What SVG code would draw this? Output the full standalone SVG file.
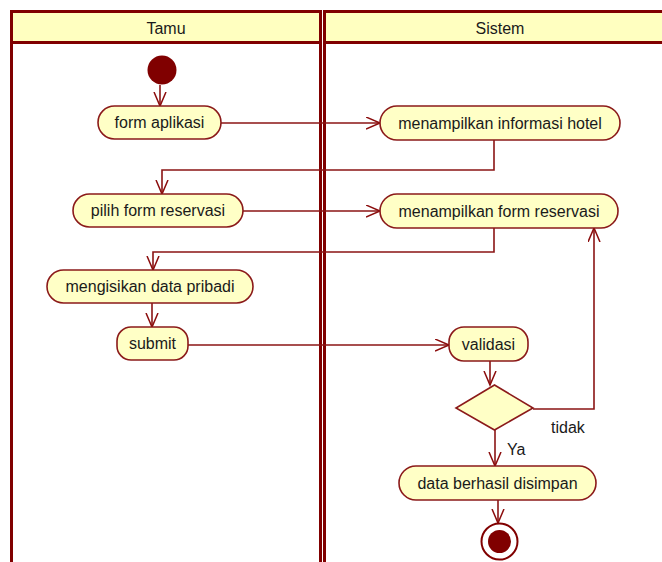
<svg xmlns="http://www.w3.org/2000/svg" width="662" height="562" viewBox="0 0 662 562">
  <defs>
    <marker id="arrow" markerUnits="userSpaceOnUse" markerWidth="16" markerHeight="14" refX="14" refY="6.5" orient="auto">
      <path d="M0,0.5 L14,6.5 L0,12.5" fill="none" stroke="#8b0d0d" stroke-width="1.5"/>
    </marker>
    <style>
      .lane { fill: #ffffff; stroke: #800000; stroke-width: 3; }
      .lanehead { fill: #ffffc0; stroke: #800000; stroke-width: 3; }
      .act { fill: #ffffc6; stroke: #8b1a1a; stroke-width: 1.6; }
      .lbl { font-family: "Liberation Sans", Arial, sans-serif; font-size: 16px; fill: #1a1a1a; text-anchor: middle; }
      .edge { fill: none; stroke: #8b1515; stroke-width: 1.6; marker-end: url(#arrow); }
      .guard { font-family: "Liberation Sans", Arial, sans-serif; font-size: 16px; fill: #1a1a1a; }
    </style>
  </defs>

  <!-- swimlanes -->
  <g id="lane-tamu">
    <rect class="lane" x="11.5" y="11.5" width="309" height="560"/>
    <rect class="lanehead" x="11.5" y="11.5" width="309" height="31"/>
    <text class="lbl" x="166" y="34">Tamu</text>
  </g>
  <g id="lane-sistem">
    <rect class="lane" x="324.5" y="11.5" width="350" height="560"/>
    <rect class="lanehead" x="324.5" y="11.5" width="350" height="31"/>
    <text class="lbl" x="500" y="34">Sistem</text>
  </g>

  <!-- connectors -->
  <g id="connectors">
    <path class="edge" d="M160,85 L160,106"/>
    <path class="edge" d="M221,123 L380,123"/>
    <path class="edge" d="M494,140 L494,170 L162,170 L162,194"/>
    <path class="edge" d="M243,211 L380,211"/>
    <path class="edge" d="M494,228 L494,252 L153,252 L153,270"/>
    <path class="edge" d="M152,303 L152,327"/>
    <path class="edge" d="M188,345 L449,345"/>
    <path class="edge" d="M490,361 L490,385"/>
    <path class="edge" d="M533,409 L594,409 L594,228"/>
    <path class="edge" d="M495,430 L495,466"/>
    <path class="edge" d="M498,500 L498,523"/>
    <text class="guard" x="551" y="433">tidak</text>
    <text class="guard" x="507" y="455">Ya</text>
  </g>

  <!-- nodes -->
  <g id="start">
    <circle cx="162" cy="70" r="14.5" fill="#800000"/>
  </g>
  <g id="form-aplikasi">
    <rect class="act" x="98" y="106" width="123" height="33" rx="16.5"/>
    <text class="lbl" x="159.5" y="128">form aplikasi</text>
  </g>
  <g id="info-hotel">
    <rect class="act" x="380" y="106" width="240" height="34" rx="17"/>
    <text class="lbl" x="500" y="128.5">menampilkan informasi hotel</text>
  </g>
  <g id="pilih-form">
    <rect class="act" x="73" y="194" width="170" height="33" rx="16.5"/>
    <text class="lbl" x="158" y="216">pilih form reservasi</text>
  </g>
  <g id="tampil-form">
    <rect class="act" x="380" y="194" width="238" height="34" rx="17"/>
    <text class="lbl" x="499" y="216.5">menampilkan form reservasi</text>
  </g>
  <g id="isi-data">
    <rect class="act" x="47" y="270" width="206" height="33" rx="16.5"/>
    <text class="lbl" x="150" y="292">mengisikan data pribadi</text>
  </g>
  <g id="submit">
    <rect class="act" x="117" y="327" width="71" height="33" rx="14"/>
    <text class="lbl" x="152.5" y="349">submit</text>
  </g>
  <g id="validasi">
    <rect class="act" x="449" y="327" width="79" height="34" rx="15"/>
    <text class="lbl" x="488.5" y="349.5">validasi</text>
  </g>
  <g id="keputusan">
    <polygon class="act" points="494.5,385 533,408 494.5,430 456,408"/>
  </g>
  <g id="simpan">
    <rect class="act" x="399" y="466" width="197" height="34" rx="17"/>
    <text class="lbl" x="497.5" y="488.5">data berhasil disimpan</text>
  </g>
  <g id="end">
    <circle cx="499.5" cy="541.5" r="18" fill="#ffffff" stroke="#800000" stroke-width="2"/>
    <circle cx="499.5" cy="541.5" r="11.5" fill="#800000"/>
  </g>
</svg>
